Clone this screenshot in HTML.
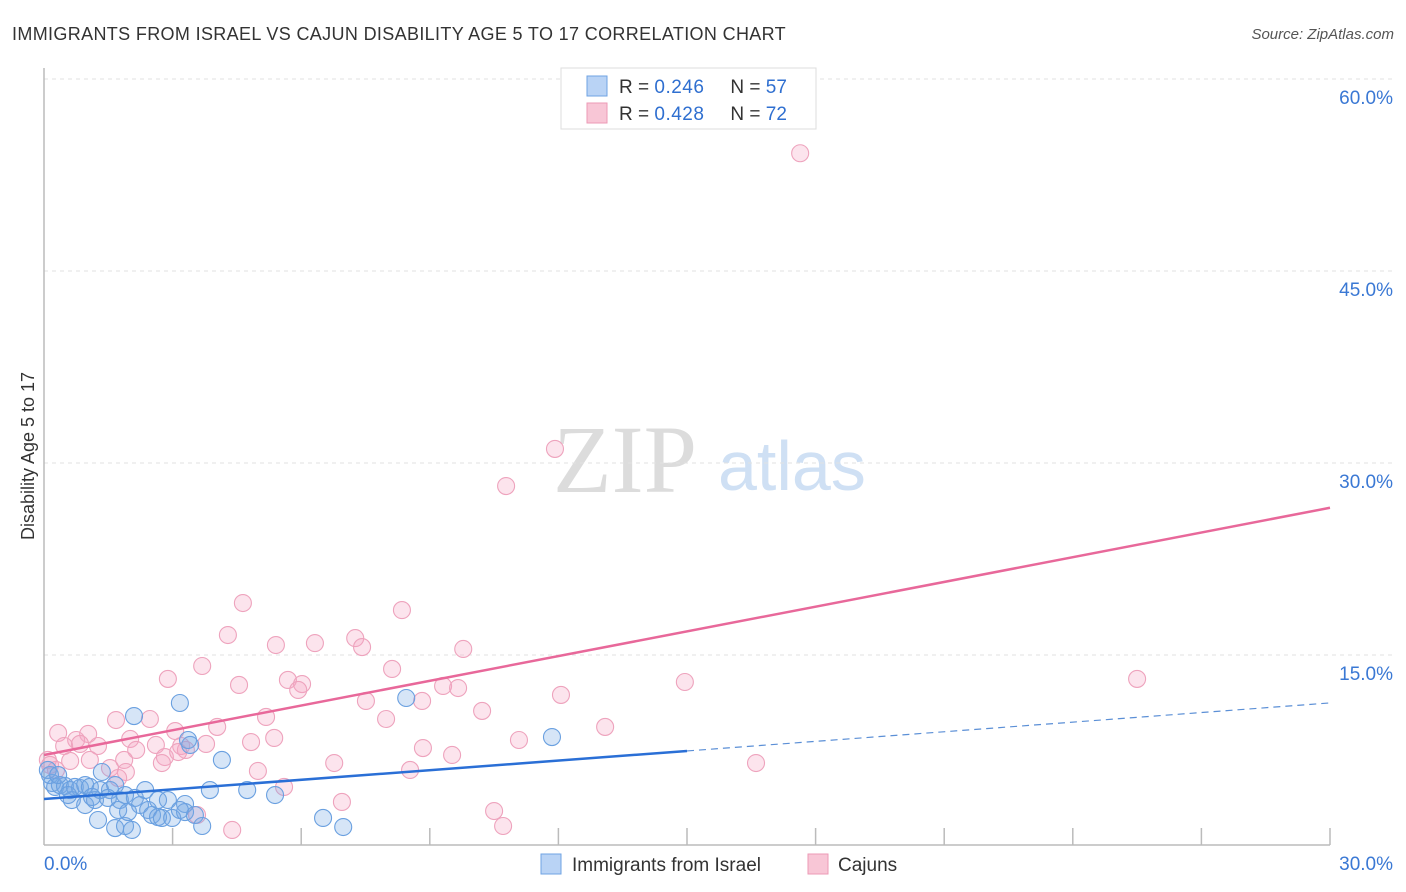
<!DOCTYPE html>
<html><head><meta charset="utf-8"><style>
body{margin:0;background:#fff;font-family:"Liberation Sans",sans-serif;}
svg{display:block}
</style></head><body>
<svg id="chart" width="1406" height="892">
<text x="12" y="40" font-size="18" fill="#333" letter-spacing="0.35">IMMIGRANTS FROM ISRAEL VS CAJUN DISABILITY AGE 5 TO 17 CORRELATION CHART</text>
<text x="1394" y="39" font-size="15" fill="#555" font-style="italic" text-anchor="end">Source: ZipAtlas.com</text>
<text x="34" y="456" font-size="18" fill="#333" transform="rotate(-90 34 456)" text-anchor="middle">Disability Age 5 to 17</text>
<g><text x="553" y="492" font-size="96" font-family="Liberation Serif,serif" fill="#dcdcdc">ZIP</text><text x="718" y="490" font-size="70" fill="#cfe0f4">atlas</text></g>
<g id="grid"></g><g id="axes"></g><g id="marks"></g><g id="lines"></g>
<g>
<rect x="561" y="68" width="255" height="61" fill="#fff" stroke="#ddd"/>
<rect x="587" y="76" width="20" height="20" fill="#b9d3f5" stroke="#6fa3e3"/>
<rect x="587" y="103" width="20" height="20" fill="#f8c6d6" stroke="#ec9ab6"/>
<text x="619" y="93" font-size="19" fill="#333">R = <tspan fill="#2f6fd0" letter-spacing="0.5">0.246</tspan><tspan dx="26">N = </tspan><tspan fill="#2f6fd0">57</tspan></text>
<text x="619" y="120" font-size="19" fill="#333">R = <tspan fill="#2f6fd0" letter-spacing="0.5">0.428</tspan><tspan dx="26">N = </tspan><tspan fill="#2f6fd0">72</tspan></text>
</g>
<g>
<rect x="541" y="854" width="20" height="20" fill="#b9d3f5" stroke="#6fa3e3"/>
<text x="572" y="871" font-size="19" fill="#333">Immigrants from Israel</text>
<rect x="808" y="854" width="20" height="20" fill="#f8c6d6" stroke="#ec9ab6"/>
<text x="838" y="871" font-size="19" fill="#333">Cajuns</text>
</g>
</svg>
<script>
const xTicks=[0,3,6,9,12,15,18,21,24,27,30];
const yTicks=[15,30,45,60];
const yTickLabels=["15.0%","30.0%","45.0%","60.0%"];
const xEndLabels=["0.0%","30.0%"];
const israelX=[0.14,0.19,0.26,0.37,0.49,0.61,0.72,0.84,0.96,1.07,0.65,0.96,1.19,1.31,1.35,1.54,1.66,1.77,1.89,1.26,1.66,1.89,2.05,2.12,2.24,2.36,2.43,2.52,2.66,2.66,2.75,2.10,2.99,3.17,3.29,3.29,3.41,3.52,3.69,3.87,4.15,4.74,5.39,6.51,6.98,8.45,11.85,0.09,0.33,0.56,1.12,1.49,1.73,1.96,2.89,3.17,3.36];
const israelY=[5.62,5.00,4.69,4.84,4.77,4.45,4.69,4.61,4.84,4.69,3.67,3.28,3.67,4.45,5.86,4.45,4.84,3.67,4.06,2.11,1.48,1.64,1.33,3.83,3.28,4.45,2.89,2.50,2.34,3.67,2.27,10.23,2.27,11.25,3.36,2.73,7.97,2.50,1.64,4.45,6.80,4.45,4.06,2.27,1.56,11.64,8.59,6.02,5.62,4.06,3.91,3.83,2.89,2.73,3.67,2.89,8.36];
const cajunX=[17.64,11.92,10.78,4.64,8.35,4.29,7.26,5.41,6.32,7.42,9.78,3.69,2.89,5.69,4.55,6.02,5.93,9.31,9.66,8.12,7.51,8.82,12.06,10.22,7.98,5.18,1.68,2.47,3.06,4.04,3.20,2.01,3.31,2.15,0.33,1.03,0.75,0.47,0.84,1.26,1.87,2.61,2.82,4.83,5.37,3.78,2.75,0.09,0.14,0.28,0.61,1.07,1.54,1.91,1.73,4.99,6.77,8.84,9.52,11.08,13.09,14.95,25.5,16.61,8.54,3.57,4.39,5.60,6.95,10.50,10.71,3.13];
const cajunY=[54.2,31.1,28.2,19.06,18.51,16.56,16.32,15.78,15.93,15.62,15.47,14.14,13.13,13.05,12.66,12.73,12.27,12.58,12.42,13.91,11.41,11.41,11.88,10.63,10.0,10.16,9.92,10.0,9.06,9.38,7.89,8.44,7.58,7.58,8.91,8.83,8.36,7.89,8.05,7.89,6.80,7.97,7.03,8.20,8.52,8.05,6.56,6.80,6.41,6.02,6.72,6.80,6.17,5.86,5.39,5.94,6.56,7.73,7.19,8.36,9.38,12.89,13.13,6.56,6.02,2.50,1.33,4.69,3.52,2.81,1.64,7.42];
const israelTrend=[3.75,0.2502];
const cajunTrend=[7.19,0.6437];
const NS='http://www.w3.org/2000/svg';
const X=v=>44+v*1286/30, Y=v=>847-v*12.8;
function mk(parent,tag,attrs){const e=document.createElementNS(NS,tag);for(const k in attrs)e.setAttribute(k,attrs[k]);document.getElementById(parent).appendChild(e);return e;}
mk('axes','line',{x1:44,y1:68,x2:44,y2:845,stroke:'#bbb','stroke-width':1.5});
mk('axes','line',{x1:44,y1:845,x2:1330,y2:845,stroke:'#bbb','stroke-width':1.5});
xTicks.forEach((t,i)=>{if(i==0)return;const l=mk('axes','line',{x1:X(t),y1:828,x2:X(t),y2:845,stroke:'#bbb','stroke-width':1.5});

});
yTicks.forEach((t,i)=>{const g=mk('grid','line',{x1:44,y1:Y(t),x2:1394,y2:Y(t),stroke:'#e2e2e2','stroke-dasharray':'4 4'});


const tx=mk('axes','text',{x:1393,y:Y(t)+25,'font-size':19,fill:'#3a78d4','text-anchor':'end'});tx.textContent=yTickLabels[i];

});
mk('grid','line',{x1:44,y1:79,x2:1394,y2:79,stroke:'#e2e2e2','stroke-dasharray':'4 4'});
const l0=mk('axes','text',{x:44,y:870,'font-size':19,fill:'#3a78d4'});l0.textContent=xEndLabels[0];


const l1=mk('axes','text',{x:1393,y:870,'font-size':19,fill:'#3a78d4','text-anchor':'end'});l1.textContent=xEndLabels[1];


cajunX.forEach((v,i)=>{const c=mk('marks','circle',{cx:X(v),cy:Y(cajunY[i]),r:8.5,fill:'rgba(245,165,195,0.3)',stroke:'#eea3bd','stroke-width':1.1});

});
israelX.forEach((v,i)=>{const c=mk('marks','circle',{cx:X(v),cy:Y(israelY[i]),r:8.5,fill:'rgba(120,170,230,0.3)',stroke:'#6aa0e0','stroke-width':1.1});

});
const f=(tr,x)=>tr[0]+tr[1]*x;
const b1=mk('lines','line',{x1:X(0),y1:Y(f(israelTrend,0)),x2:X(15),y2:Y(f(israelTrend,15)),stroke:'#2a6fd6','stroke-width':2.5});


const b2=mk('lines','line',{x1:X(15),y1:Y(f(israelTrend,15)),x2:X(30),y2:Y(f(israelTrend,30)),stroke:'#5b8fd6','stroke-width':1.2,'stroke-dasharray':'7 5'});


const p1=mk('lines','line',{x1:X(0),y1:Y(f(cajunTrend,0)),x2:X(30),y2:Y(f(cajunTrend,30)),stroke:'#e8689a','stroke-width':2.5});


</script>
</body></html>
